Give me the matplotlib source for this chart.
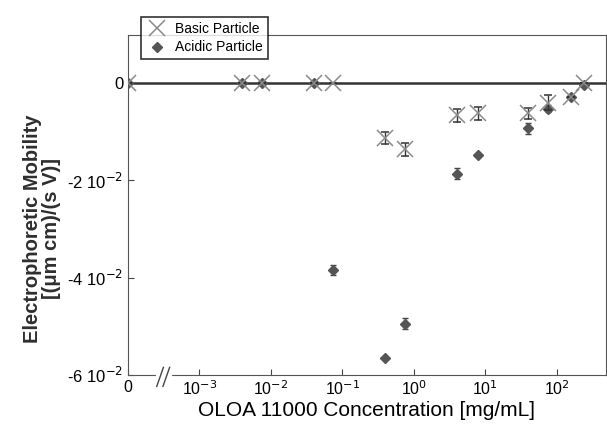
import matplotlib
matplotlib.use('Agg')
import matplotlib.pyplot as plt
from matplotlib.lines import Line2D
import numpy as np

plt.rcParams['font.family'] = ['Liberation Sans', 'DejaVu Sans']

# concentration [mg/mL]; 0 is drawn at the left end (1e-4) past the axis break
zero_pos = 1e-4

basic_x = [0, 0.004, 0.0075, 0.04, 0.075, 0.4, 0.75, 4, 8, 40, 75, 160, 240]
basic_y = [0, 0, 0, 0, 0, -0.0113, -0.0136, -0.0066, -0.0062, -0.0062, -0.0040, -0.0028, 0]
basic_err = [0, 0, 0, 0, 0, 0.0012, 0.0013, 0.0013, 0.0014, 0.0011, 0.0015, 0, 0]

acid_x = [0, 0.004, 0.0075, 0.04, 0.075, 0.4, 0.75, 4, 8, 40, 75, 160, 240]
acid_y = [0, 0, 0, 0, -0.0384, -0.0565, -0.0495, -0.0186, -0.0148, -0.0093, -0.0052, -0.0029, -0.0003]
acid_err = [0, 0, 0, 0, 0.001, 0, 0.0011, 0.0012, 0, 0.0011, 0.0008, 0, 0]

yticks = [0, -0.02, -0.04, -0.06]
ytick_labels = ['0', r'-2 10$^{-2}$', r'-4 10$^{-2}$', r'-6 10$^{-2}$']
xticks = [zero_pos, 1e-3, 1e-2, 1e-1, 1e0, 1e1, 1e2]
xtick_labels = ['0', r'10$^{-3}$', r'10$^{-2}$', r'10$^{-1}$', r'10$^{0}$', r'10$^{1}$', r'10$^{2}$']


def place(xs):
    return [zero_pos if v == 0 else v for v in xs]


fig = plt.figure(figsize=(6.07, 4.24), dpi=100)
ax = fig.add_axes([0.211, 0.116, 0.787, 0.801])

ax.axhline(0, color='#333333', lw=1.8, zorder=1)

ax.errorbar(place(acid_x), acid_y, yerr=acid_err, fmt='D', color='#555555',
            ms=5.5, ecolor='#444444', elinewidth=1, capsize=2.5, zorder=3)
ax.errorbar(place(basic_x), basic_y, yerr=basic_err, fmt='x', color='#8a8a8a',
            ms=11, mew=1.1, ecolor='#333333', elinewidth=1, capsize=3, zorder=4)

ax.set_xscale('log')
ax.set_xlim(zero_pos, 490)
ax.set_ylim(-0.06, 0.0099)
ax.set_xticks(xticks)
ax.set_xticklabels(xtick_labels)
ax.minorticks_off()
ax.set_yticks(yticks)
ax.set_yticklabels(ytick_labels)
ax.tick_params(direction='in', length=4, labelsize=11.5, color='#444444')
ax.tick_params(axis='y', labelsize=12)
for s in ax.spines.values():
    s.set_color('#555555')

# axis break: gap in the bottom spine and two slashes
ax.plot([0.062, 0.088], [0, 0], color='white', lw=3, transform=ax.transAxes,
        clip_on=False, zorder=5)
for cx in (0.067, 0.080):
    ax.plot([cx - 0.007, cx + 0.007], [-0.034, 0.022], color='#444444', lw=1,
            transform=ax.transAxes, clip_on=False, zorder=6)

ax.set_xlabel('OLOA 11000 Concentration [mg/mL]', fontsize=15, labelpad=2)
ax.set_ylabel('Electrophoretic Mobility\n[(μm cm)/(s V)]', fontsize=14.5,
              fontweight='bold', color='#2e2e2e', linespacing=1.0)
ax.yaxis.set_label_coords(-0.14, 0.43)

handles = [Line2D([], [], ls='none', marker='x', color='#8a8a8a', ms=11, mew=1.1),
           Line2D([], [], ls='none', marker='D', color='#555555', ms=5.5)]
leg = ax.legend(handles, ['Basic Particle', 'Acidic Particle'], loc='upper left',
                bbox_to_anchor=(0.013, 1.075), fontsize=10, frameon=True,
                fancybox=False, edgecolor='black', borderpad=0.35,
                handlelength=1.6, handletextpad=0.5, labelspacing=0.35)
leg.get_frame().set_linewidth(1.2)
leg.set_zorder(10)

fig.savefig('out.png', dpi=100)
